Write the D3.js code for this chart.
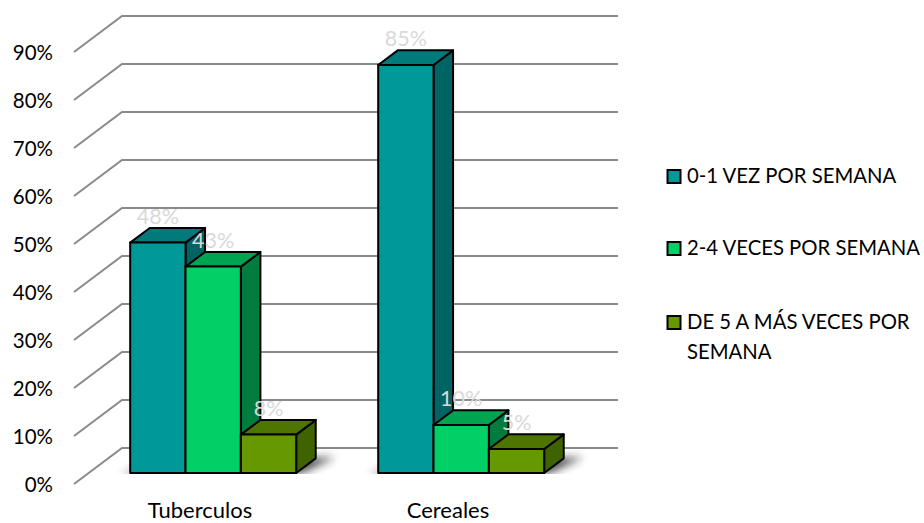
<!DOCTYPE html>
<html>
<head>
<meta charset="utf-8">
<script src="https://cdn.jsdelivr.net/npm/d3@7"></script>
<style>
  html, body { margin: 0; padding: 0; background: #fff; }
  svg { display: block; }
  text { font-family: Lato, "Open Sans", sans-serif; }
</style>
</head>
<body>
<svg id="chart" width="924" height="523"></svg>
<script>
// Weekly consumption frequency, percent of respondents
const categories = ["Tuberculos", "Cereales"];
const seriesNames = ["0-1 VEZ POR SEMANA", "2-4 VECES POR SEMANA", "DE 5 A MÁS VECES POR SEMANA"];
const tuberculosValues = [48, 43, 8];
const cerealesValues = [85, 10, 5];
const valuesByCategory = [tuberculosValues, cerealesValues];
const yTicks = [0, 10, 20, 30, 40, 50, 60, 70, 80, 90];

const faceFront = ["#009999", "#00d065", "#669900"];
const faceTop = ["#007a7a", "#00a34f", "#4e7500"];
const faceSide = ["#006464", "#007c3e", "#3f6300"];

const svg = d3.select("#chart");
const defs = svg.append("defs");
defs.append("filter").attr("id", "floorShadow")
  .attr("x", "-20%").attr("y", "-100%").attr("width", "140%").attr("height", "300%")
  .append("feGaussianBlur").attr("stdDeviation", 4);

// Oblique projection: depth 0 is the front plane, depth 1 the back wall
const wallDx = 48, wallDy = -36;
const barDepthStart = 0.306, barDepthEnd = 0.713;

const y = d3.scaleLinear().domain([0, 90]).range([484, 52]);
const xCat = d3.scaleBand().domain(categories).range([74, 570]);
const xSeries = d3.scaleBand().domain(seriesNames).range([41.5, 207.5]);
const pt = (x, v, d) => [x + wallDx * d, y(v) + wallDy * d];
const poly = pts => pts.map(p => p.join(",")).join(" ");

// The floor shadow stops at the bars' front edge
defs.append("clipPath").attr("id", "floorClip")
  .append("rect").attr("x", 0).attr("y", 0).attr("width", 924)
  .attr("height", pt(0, 0, barDepthStart)[1] + 1);

// Back wall and left wall gridlines
const grid = svg.append("g").attr("stroke", "#8a8a8a").attr("stroke-width", 2).attr("fill", "none");
yTicks.forEach(t => {
  grid.append("polyline").attr("points", poly([
    pt(xCat.range()[0], t, 0), pt(xCat.range()[0], t, 1), pt(xCat.range()[1], t, 1)
  ]));
});

// Soft shadow on the floor beneath each cluster
const shadows = svg.append("g").attr("clip-path", "url(#floorClip)");
categories.forEach(c => {
  const l = xCat(c) + xSeries.range()[0], r = xCat(c) + xSeries.range()[1];
  shadows.append("polygon")
    .attr("points", poly([
      pt(l - 10, 0, barDepthStart), pt(r + 6, 0, barDepthStart),
      pt(r + 18, 0, barDepthStart + 0.44), pt(l + 30, 0, barDepthStart + 0.3)
    ]))
    .attr("fill", "#222").attr("opacity", 0.8)
    .attr("filter", "url(#floorShadow)");
});

// Bars, drawn left to right so each one covers its neighbour's side face
const labelData = [];
categories.forEach((c, ci) => {
  valuesByCategory[ci].forEach((v, si) => {
    const s = seriesNames[si];
    const x0 = xCat(c) + xSeries(s), x1 = x0 + xSeries.bandwidth();
    const g = svg.append("g").attr("stroke", "#000").attr("stroke-width", 2).attr("stroke-linejoin", "round");
    g.append("polygon").attr("fill", faceSide[si]).attr("points", poly([
      pt(x1, v, barDepthStart), pt(x1, v, barDepthEnd), pt(x1, 0, barDepthEnd), pt(x1, 0, barDepthStart)
    ]));
    g.append("polygon").attr("fill", faceTop[si]).attr("points", poly([
      pt(x0, v, barDepthStart), pt(x0, v, barDepthEnd), pt(x1, v, barDepthEnd), pt(x1, v, barDepthStart)
    ]));
    g.append("polygon").attr("fill", faceFront[si]).attr("points", poly([
      pt(x0, 0, barDepthStart), pt(x0, v, barDepthStart), pt(x1, v, barDepthStart), pt(x1, 0, barDepthStart)
    ]));
    const top = pt((x0 + x1) / 2, v, barDepthStart);
    labelData.push({ x: top[0], y: top[1] - 19, text: v + "%" });
  });
});

// Data labels sit on top of every bar
svg.append("g").selectAll("text").data(labelData).join("text")
  .attr("x", d => d.x).attr("y", d => d.y)
  .attr("text-anchor", "middle")
  .attr("font-size", 21.5).attr("fill", "#d9d9d9")
  .text(d => d.text);

// Value axis
const yAxis = svg.append("g").attr("transform", "translate(61,1)")
  .call(d3.axisLeft(y).tickValues(yTicks).tickSize(0).tickPadding(8).tickFormat(d => d + "%"));
yAxis.select(".domain").remove();
yAxis.selectAll("text").attr("font-size", 20.5).attr("fill", "#000")
  .style("font-family", "Lato, 'Open Sans', sans-serif");

// Category labels
svg.append("g").selectAll("text").data(categories).join("text")
  .attr("x", d => xCat(d) + xCat.bandwidth() / 2 + 2)
  .attr("y", 518)
  .attr("text-anchor", "middle")
  .attr("font-size", 22).attr("fill", "#000")
  .text(d => d);

// Legend
const legendRows = [
  { lines: [seriesNames[0]], baseline: 183 },
  { lines: [seriesNames[1]], baseline: 255 },
  { lines: ["DE 5 A MÁS VECES POR", "SEMANA"], baseline: 329 }
];
legendRows.forEach((row, i) => {
  svg.append("rect")
    .attr("x", 667.5).attr("y", row.baseline - 13).attr("width", 13).attr("height", 13)
    .attr("fill", faceFront[i]).attr("stroke", "#000").attr("stroke-width", 2);
  row.lines.forEach((line, j) => {
    svg.append("text").attr("x", 687).attr("y", row.baseline + j * 30)
      .attr("font-size", 20.3).attr("fill", "#000").text(line);
  });
});
</script>
</body>
</html>
